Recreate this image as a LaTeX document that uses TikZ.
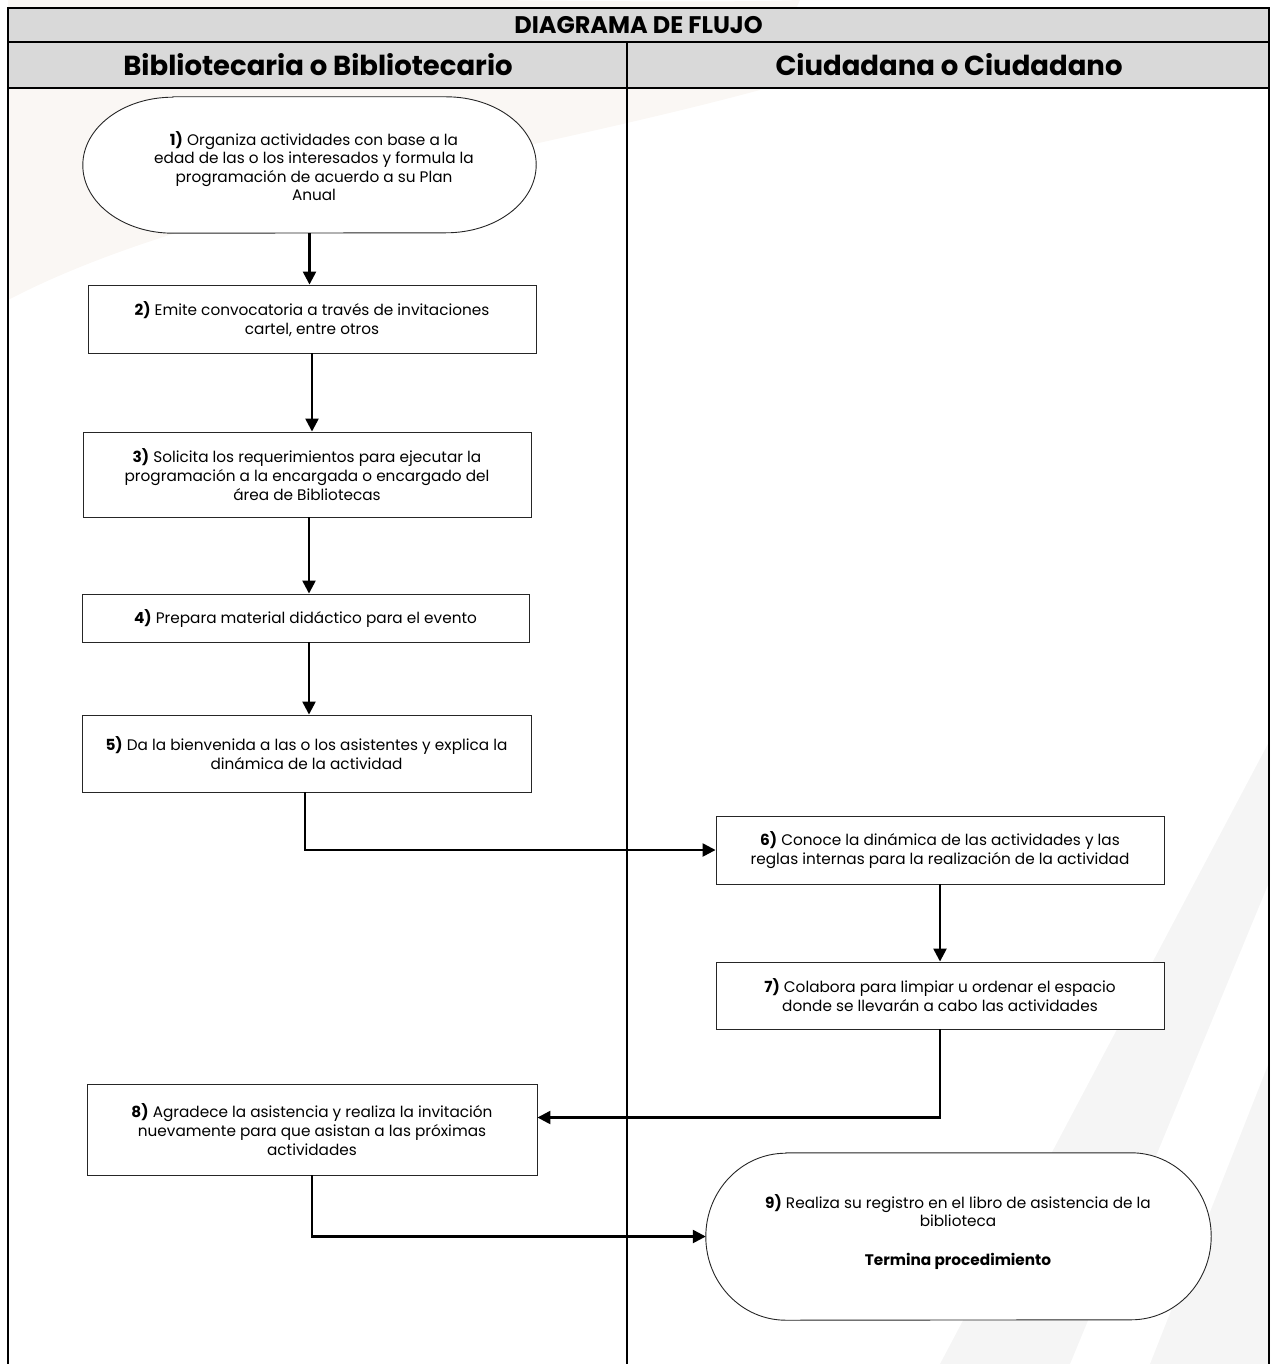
\documentclass[tikz,border=0pt]{standalone}
\usepackage{fontspec}
\setmainfont{Poppins}
\usetikzlibrary{arrows.meta,calc}
\definecolor{hdrgray}{RGB}{217,217,217}
\definecolor{wmA}{RGB}{250,247,244}
\definecolor{wmB}{RGB}{245,245,245}
\tikzset{
  frameline/.style={line width=2pt,black},
  stepbox/.style={draw=black!85,line width=0.9pt,fill=white,align=center,inner sep=4pt,
    font=\fontsize{15.3}{19}\selectfont},
  termtext/.style={draw=none,align=center,inner sep=0pt,font=\fontsize{15.3}{18.5}\selectfont},
  termline/.style={draw=black!85,line width=0.9pt,fill=white},
  flow/.style={line width=2.4pt,-{Triangle[length=13pt,width=13pt]}},
  titletext/.style={font=\fontsize{24}{28}\selectfont\bfseries},
  lanetext/.style={font=\fontsize{27.5}{32}\selectfont\bfseries}
}
\begin{document}
\begin{tikzpicture}[x=1pt,y=-1pt]
\useasboundingbox (0,0) rectangle (1270,1364);
% watermark
\fill[wmA] (150,0) .. controls (350,-5) and (650,5) .. (800,0) -- (760,90) .. controls (500,160) and (200,200) .. (8,300) -- (8,0) -- cycle;
\fill[wmB] (1270,740) -- (1270,880) -- (1070,1364) -- (940,1364) -- cycle;
\fill[wmB] (1270,1060) -- (1270,1364) -- (1150,1364) -- cycle;
% header rows
\fill[hdrgray] (8,8) rectangle (1269,88);
\node[titletext] (title) at (638.5,25) {DIAGRAMA DE FLUJO};
\node[lanetext] (laneA) at (318,65) {Bibliotecaria o Bibliotecario};
\node[lanetext] (laneB) at (949,65) {Ciudadana o Ciudadano};
\draw[frameline] (8,1364) -- (8,8) -- (1269,8) -- (1269,1364);
\draw[frameline] (8,42) -- (1269,42);
\draw[frameline] (8,88) -- (1269,88);
\draw[frameline] (627,42) -- (627,1364);
% node 1 (terminator)
\node[termtext,minimum width=453pt,minimum height=136pt] (n1) at (309.5,165) {};
\draw[termline] ([xshift=90pt]n1.north west) -- ([xshift=-90pt]n1.north east)
  arc[start angle=90,end angle=-90,x radius=90pt,y radius=68pt]
  -- ([xshift=90pt]n1.south west)
  arc[start angle=270,end angle=90,x radius=90pt,y radius=68pt] -- cycle;
\node[termtext] (t1) at (314,166) {\textbf{1)} Organiza actividades con base a la\\edad de las o los interesados y formula la\\programación de acuerdo a su Plan\\Anual};
% boxes
\node[stepbox,minimum width=448pt,minimum height=68pt] (n2) at (312,319) {\textbf{2)} Emite convocatoria a través de invitaciones\\cartel, entre otros};
\node[stepbox,minimum width=448pt,minimum height=85pt] (n3) at (307,474.5) {\textbf{3)} Solicita los requerimientos para ejecutar la\\programación a la encargada o encargado del\\área de Bibliotecas};
\node[stepbox,minimum width=447pt,minimum height=48pt] (n4) at (305.5,618) {\textbf{4)} Prepara material didáctico para el evento};
\node[stepbox,minimum width=449pt,minimum height=77pt] (n5) at (306.5,753.5) {\textbf{5)} Da la bienvenida a las o los asistentes y explica la\\dinámica de la actividad};
\node[stepbox,minimum width=448pt,minimum height=68pt] (n6) at (940,850) {\textbf{6)} Conoce la dinámica de las actividades y las\\reglas internas para la realización de la actividad};
\node[stepbox,minimum width=448pt,minimum height=67pt] (n7) at (940,995.5) {\textbf{7)} Colabora para limpiar u ordenar el espacio\\donde se llevarán a cabo las actividades};
\node[stepbox,minimum width=450pt,minimum height=91pt] (n8) at (312,1129.5) {\textbf{8)} Agradece la asistencia y realiza la invitación\\nuevamente para que asistan a las próximas\\actividades};
% node 9 (terminator)
\node[termtext,minimum width=505pt,minimum height=167pt] (n9) at (958.5,1236.5) {};
\draw[termline] ([xshift=80pt]n9.north west) -- ([xshift=-80pt]n9.north east)
  arc[start angle=90,end angle=-90,x radius=80pt,y radius=83.5pt]
  -- ([xshift=80pt]n9.south west)
  arc[start angle=270,end angle=90,x radius=80pt,y radius=83.5pt] -- cycle;
\node[termtext] (t9) at (958,1232) {\textbf{9)} Realiza su registro en el libro de asistencia de la\\biblioteca\\[20pt]\textbf{Termina procedimiento}};
% connectors
\draw[flow] (n1.south) -- (n1.south |- n2.north);
\draw[flow] (n2.south) -- (n2.south |- n3.north);
\draw[flow] ([xshift=2pt]n3.south) -- ([xshift=2pt]n3.south |- n4.north);
\draw[flow] ([xshift=3.5pt]n4.south) -- ([xshift=3.5pt]n4.south |- n5.north);
\draw[flow] ([xshift=-1.5pt]n5.south) |- (n6.west);
\draw[flow] (n6.south) -- (n7.north);
\draw[flow] (n7.south) |- ([yshift=12pt]n8.east);
\draw[flow] (n8.south) |- (n9.west);
\end{tikzpicture}
\end{document}
